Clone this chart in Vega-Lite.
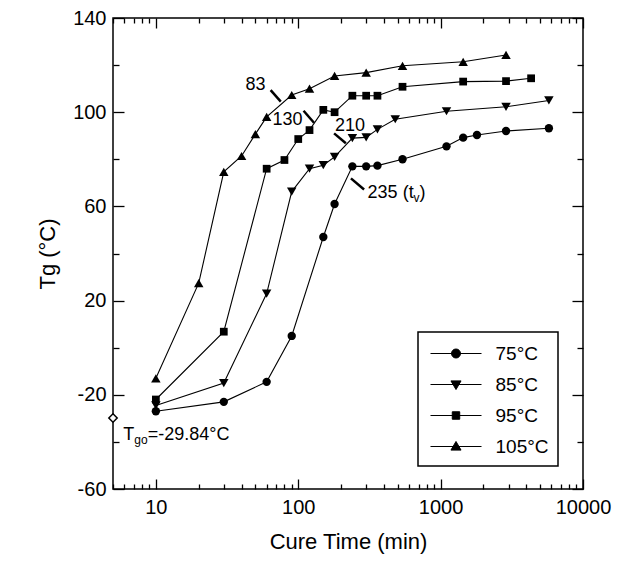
{
 "$schema": "https://vega.github.io/schema/vega-lite/v6.json",
 "width": 470, "height": 471, "autosize": "none",
 "padding": {"left": 113, "top": 18, "right": 34, "bottom": 84},
 "background": "white",
 "config": {
  "font": "Liberation Sans",
  "view": {"stroke": "black", "strokeWidth": 1.5},
  "axis": {"domain": false, "grid": false, "tickColor": "black", "tickWidth": 1.3, "labelColor": "black", "titleColor": "black", "labelFont": "Liberation Sans", "titleFont": "Liberation Sans", "labelFontSize": 20, "titleFontSize": 22, "titleFontWeight": "normal", "labelFlush": false},
  "text": {"font": "Liberation Sans", "color": "black"}
 },
 "datasets": {
  "tg": [
   {"series": "75°C", "time": 10, "tg": -27}, {"series": "75°C", "time": 30, "tg": -23}, {"series": "75°C", "time": 60, "tg": -14.5}, {"series": "75°C", "time": 90, "tg": 5}, {"series": "75°C", "time": 150, "tg": 47}, {"series": "75°C", "time": 180, "tg": 61}, {"series": "75°C", "time": 240, "tg": 77}, {"series": "75°C", "time": 300, "tg": 77}, {"series": "75°C", "time": 360, "tg": 77.3}, {"series": "75°C", "time": 540, "tg": 80}, {"series": "75°C", "time": 1100, "tg": 85.5}, {"series": "75°C", "time": 1440, "tg": 89.2}, {"series": "75°C", "time": 1800, "tg": 90.3}, {"series": "75°C", "time": 2880, "tg": 92}, {"series": "75°C", "time": 5760, "tg": 93.2},
   {"series": "85°C", "time": 10, "tg": -24.5}, {"series": "85°C", "time": 30, "tg": -15}, {"series": "85°C", "time": 60, "tg": 23}, {"series": "85°C", "time": 90, "tg": 66.3}, {"series": "85°C", "time": 120, "tg": 76}, {"series": "85°C", "time": 150, "tg": 77.5}, {"series": "85°C", "time": 180, "tg": 81}, {"series": "85°C", "time": 240, "tg": 89}, {"series": "85°C", "time": 300, "tg": 89.3}, {"series": "85°C", "time": 360, "tg": 92.7}, {"series": "85°C", "time": 480, "tg": 97}, {"series": "85°C", "time": 1100, "tg": 100.4}, {"series": "85°C", "time": 2880, "tg": 102.3}, {"series": "85°C", "time": 5760, "tg": 105},
   {"series": "95°C", "time": 10, "tg": -22}, {"series": "95°C", "time": 30, "tg": 6.8}, {"series": "95°C", "time": 60, "tg": 76}, {"series": "95°C", "time": 80, "tg": 79.7}, {"series": "95°C", "time": 100, "tg": 88.6}, {"series": "95°C", "time": 120, "tg": 92.4}, {"series": "95°C", "time": 150, "tg": 101}, {"series": "95°C", "time": 180, "tg": 100}, {"series": "95°C", "time": 240, "tg": 107}, {"series": "95°C", "time": 300, "tg": 107}, {"series": "95°C", "time": 360, "tg": 107}, {"series": "95°C", "time": 540, "tg": 110.8}, {"series": "95°C", "time": 1440, "tg": 113}, {"series": "95°C", "time": 2880, "tg": 113.2}, {"series": "95°C", "time": 4320, "tg": 114.4},
   {"series": "105°C", "time": 10, "tg": -13}, {"series": "105°C", "time": 20, "tg": 27.4}, {"series": "105°C", "time": 30, "tg": 74.7}, {"series": "105°C", "time": 40, "tg": 81.4}, {"series": "105°C", "time": 50, "tg": 90.7}, {"series": "105°C", "time": 60, "tg": 98}, {"series": "105°C", "time": 90, "tg": 107.3}, {"series": "105°C", "time": 120, "tg": 110}, {"series": "105°C", "time": 180, "tg": 115.4}, {"series": "105°C", "time": 300, "tg": 116.8}, {"series": "105°C", "time": 540, "tg": 119.7}, {"series": "105°C", "time": 1440, "tg": 121.4}, {"series": "105°C", "time": 2880, "tg": 124.3}
  ]
 },
 "layer": [
  {
   "data": {"name": "tg"},
   "mark": {"type": "line", "strokeWidth": 1.1},
   "encoding": {
    "x": {"field": "time", "type": "quantitative", "scale": {"type": "log", "domain": [5, 10000], "nice": false}, "axis": {"orient": "bottom", "values": [10, 100, 1000, 10000], "format": "d", "ticks": false, "labelPadding": 8, "title": "Cure Time (min)", "titlePadding": 14}},
    "y": {"field": "tg", "type": "quantitative", "scale": {"domain": [-60, 140], "nice": false, "zero": false}, "axis": {"orient": "left", "values": [-60, -20, 20, 60, 100, 140], "ticks": false, "labelPadding": 7, "labelExpr": "'' + datum.value", "title": "Tg (°C)", "titlePadding": 13}},
    "color": {"field": "series", "type": "nominal", "scale": {"domain": ["75°C", "85°C", "95°C", "105°C"], "range": ["black", "black", "black", "black"]},
     "legend": {"title": null, "orient": "none", "legendX": 305, "legendY": 314, "padding": 9, "strokeColor": "black", "rowPadding": 8, "labelFontSize": 19, "labelColor": "black", "labelFont": "Liberation Sans", "labelOffset": 27, "symbolOffset": 16.5, "symbolSize": 576, "symbolStrokeWidth": 1,
      "encode": {
       "symbols": {"update": {
        "shape": {"signal": "datum.value === '75°C' ? 'M-2.125,0H2.125M0.375,0A0.375,0.375,0,1,1,-0.375,0A0.375,0.375,0,1,1,0.375,0Z' : datum.value === '85°C' ? 'M-2.125,0H2.125M-0.42,-0.3H0.42L0,0.42Z' : datum.value === '95°C' ? 'M-2.125,0H2.125M-0.31,-0.31H0.31V0.31H-0.31Z' : 'M-2.125,0H2.125M-0.42,0.3H0.42L0,-0.42Z'"},
        "size": {"value": 576}, "fill": {"value": "black"}, "stroke": {"value": "black"}, "strokeWidth": {"value": 1}, "opacity": {"value": 1}}},
       "legend": {"update": {"strokeWidth": {"value": 1.5}}}
      }}
    }
   }
  },
  {
   "data": {"name": "tg"},
   "transform": [{"filter": "datum.series === '75°C'"}],
   "mark": {"type": "point", "shape": "circle", "filled": true, "color": "black", "opacity": 1, "size": 70},
   "encoding": {
    "x": {"field": "time", "type": "quantitative", "scale": {"type": "log", "domain": [5, 10000], "nice": false}, "axis": {"orient": "bottom", "values": [10, 100, 1000, 10000], "labels": false, "tickSize": -10, "title": null}},
    "y": {"field": "tg", "type": "quantitative", "scale": {"domain": [-60, 140], "nice": false, "zero": false}, "axis": {"orient": "left", "values": [-60, -20, 20, 60, 100, 140], "labels": false, "tickSize": -11, "title": null}}
   }
  },
  {
   "data": {"name": "tg"},
   "transform": [{"filter": "datum.series === '85°C'"}],
   "mark": {"type": "point", "shape": "triangle-down", "filled": true, "color": "black", "opacity": 1, "size": 90},
   "encoding": {
    "x": {"field": "time", "type": "quantitative", "scale": {"type": "log", "domain": [5, 10000], "nice": false}, "axis": null},
    "y": {"field": "tg", "type": "quantitative", "scale": {"domain": [-60, 140], "nice": false, "zero": false}, "axis": null}
   }
  },
  {
   "data": {"name": "tg"},
   "transform": [{"filter": "datum.series === '95°C'"}],
   "mark": {"type": "point", "shape": "square", "filled": true, "color": "black", "opacity": 1, "size": 60},
   "encoding": {
    "x": {"field": "time", "type": "quantitative", "scale": {"type": "log", "domain": [5, 10000], "nice": false}, "axis": null},
    "y": {"field": "tg", "type": "quantitative", "scale": {"domain": [-60, 140], "nice": false, "zero": false}, "axis": null}
   }
  },
  {
   "data": {"name": "tg"},
   "transform": [{"filter": "datum.series === '105°C'"}],
   "mark": {"type": "point", "shape": "triangle-up", "filled": true, "color": "black", "opacity": 1, "size": 90},
   "encoding": {
    "x": {"field": "time", "type": "quantitative", "scale": {"type": "log", "domain": [5, 10000], "nice": false}, "axis": null},
    "y": {"field": "tg", "type": "quantitative", "scale": {"domain": [-60, 140], "nice": false, "zero": false}, "axis": null}
   }
  },
  {
   "data": {"values": [
    {"t1": 64, "v1": 109.4, "t2": 75.4, "v2": 104.5},
    {"t1": 109, "v1": 100.6, "t2": 129, "v2": 95.5},
    {"t1": 178.6, "v1": 91.0, "t2": 216, "v2": 86.8},
    {"t1": 234.5, "v1": 71.9, "t2": 290, "v2": 67.2}
   ]},
   "mark": {"type": "rule", "color": "black", "strokeWidth": 2.5},
   "encoding": {
    "x": {"field": "t1", "type": "quantitative", "scale": {"type": "log", "domain": [5, 10000], "nice": false}, "axis": {"orient": "bottom", "values": [5, 6, 7, 8, 9, 20, 30, 40, 50, 60, 70, 80, 90, 200, 300, 400, 500, 600, 700, 800, 900, 2000, 3000, 4000, 5000, 6000, 7000, 8000, 9000], "labels": false, "tickSize": -5, "title": null}},
    "x2": {"field": "t2"},
    "y": {"field": "v1", "type": "quantitative", "scale": {"domain": [-60, 140], "nice": false, "zero": false}, "axis": {"orient": "left", "values": [-40, 0, 40, 80, 120], "labels": false, "tickSize": -6, "title": null}},
    "y2": {"field": "v2"}
   }
  },
  {
   "data": {"values": [
    {"label": "83", "t": 59, "v": 111.5},
    {"label": "130", "t": 107, "v": 96.7}
   ]},
   "mark": {"type": "text", "align": "right", "baseline": "middle", "fontSize": 18},
   "encoding": {
    "x": {"field": "t", "type": "quantitative", "scale": {"type": "log", "domain": [5, 10000], "nice": false}, "axis": {"orient": "top", "values": [10, 100, 1000, 10000], "labels": false, "tickSize": -10, "title": null}},
    "y": {"field": "v", "type": "quantitative", "scale": {"domain": [-60, 140], "nice": false, "zero": false}, "axis": {"orient": "right", "values": [-60, -20, 20, 60, 100, 140], "labels": false, "tickSize": -11, "title": null}},
    "text": {"field": "label"}
   }
  },
  {
   "data": {"values": [
    {"label": "210", "t": 181, "v": 94.1},
    {"label": "235 (t", "t": 307, "v": 65.8}
   ]},
   "mark": {"type": "text", "align": "left", "baseline": "middle", "fontSize": 18},
   "encoding": {
    "x": {"field": "t", "type": "quantitative", "scale": {"type": "log", "domain": [5, 10000], "nice": false}, "axis": {"orient": "top", "values": [5, 6, 7, 8, 9, 20, 30, 40, 50, 60, 70, 80, 90, 200, 300, 400, 500, 600, 700, 800, 900, 2000, 3000, 4000, 5000, 6000, 7000, 8000, 9000], "labels": false, "tickSize": -5, "title": null}},
    "y": {"field": "v", "type": "quantitative", "scale": {"domain": [-60, 140], "nice": false, "zero": false}, "axis": {"orient": "right", "values": [-40, 0, 40, 80, 120], "labels": false, "tickSize": -6, "title": null}},
    "text": {"field": "label"}
   }
  },
  {
   "data": {"values": [{"label": "v", "t": 307, "v": 65.8}]},
   "mark": {"type": "text", "align": "left", "baseline": "middle", "fontSize": 12, "dx": 46, "dy": 5},
   "encoding": {
    "x": {"field": "t", "type": "quantitative", "scale": {"type": "log", "domain": [5, 10000], "nice": false}, "axis": null},
    "y": {"field": "v", "type": "quantitative", "scale": {"domain": [-60, 140], "nice": false, "zero": false}, "axis": null},
    "text": {"field": "label"}
   }
  },
  {
   "data": {"values": [{"label": ")", "t": 307, "v": 65.8}]},
   "mark": {"type": "text", "align": "left", "baseline": "middle", "fontSize": 18, "dx": 52},
   "encoding": {
    "x": {"field": "t", "type": "quantitative", "scale": {"type": "log", "domain": [5, 10000], "nice": false}, "axis": null},
    "y": {"field": "v", "type": "quantitative", "scale": {"domain": [-60, 140], "nice": false, "zero": false}, "axis": null},
    "text": {"field": "label"}
   }
  },
  {
   "data": {"values": [{"t": 5, "v": -29.84}]},
   "mark": {"type": "point", "shape": "diamond", "filled": true, "fill": "white", "stroke": "black", "strokeWidth": 1.5, "size": 70, "opacity": 1, "clip": false},
   "encoding": {
    "x": {"field": "t", "type": "quantitative", "scale": {"type": "log", "domain": [5, 10000], "nice": false}, "axis": null},
    "y": {"field": "v", "type": "quantitative", "scale": {"domain": [-60, 140], "nice": false, "zero": false}, "axis": null}
   }
  },
  {
   "data": {"values": [{"label": "T", "t": 5.9, "v": -37.1}]},
   "mark": {"type": "text", "align": "left", "baseline": "middle", "fontSize": 18},
   "encoding": {
    "x": {"field": "t", "type": "quantitative", "scale": {"type": "log", "domain": [5, 10000], "nice": false}, "axis": null},
    "y": {"field": "v", "type": "quantitative", "scale": {"domain": [-60, 140], "nice": false, "zero": false}, "axis": null},
    "text": {"field": "label"}
   }
  },
  {
   "data": {"values": [{"label": "go", "t": 5.9, "v": -37.1}]},
   "mark": {"type": "text", "align": "left", "baseline": "middle", "fontSize": 12, "dx": 11, "dy": 5},
   "encoding": {
    "x": {"field": "t", "type": "quantitative", "scale": {"type": "log", "domain": [5, 10000], "nice": false}, "axis": null},
    "y": {"field": "v", "type": "quantitative", "scale": {"domain": [-60, 140], "nice": false, "zero": false}, "axis": null},
    "text": {"field": "label"}
   }
  },
  {
   "data": {"values": [{"label": "=-29.84°C", "t": 5.9, "v": -37.1}]},
   "mark": {"type": "text", "align": "left", "baseline": "middle", "fontSize": 18, "dx": 24.5},
   "encoding": {
    "x": {"field": "t", "type": "quantitative", "scale": {"type": "log", "domain": [5, 10000], "nice": false}, "axis": null},
    "y": {"field": "v", "type": "quantitative", "scale": {"domain": [-60, 140], "nice": false, "zero": false}, "axis": null},
    "text": {"field": "label"}
   }
  }
 ],
 "resolve": {"axis": {"x": "independent", "y": "independent"}}
}
